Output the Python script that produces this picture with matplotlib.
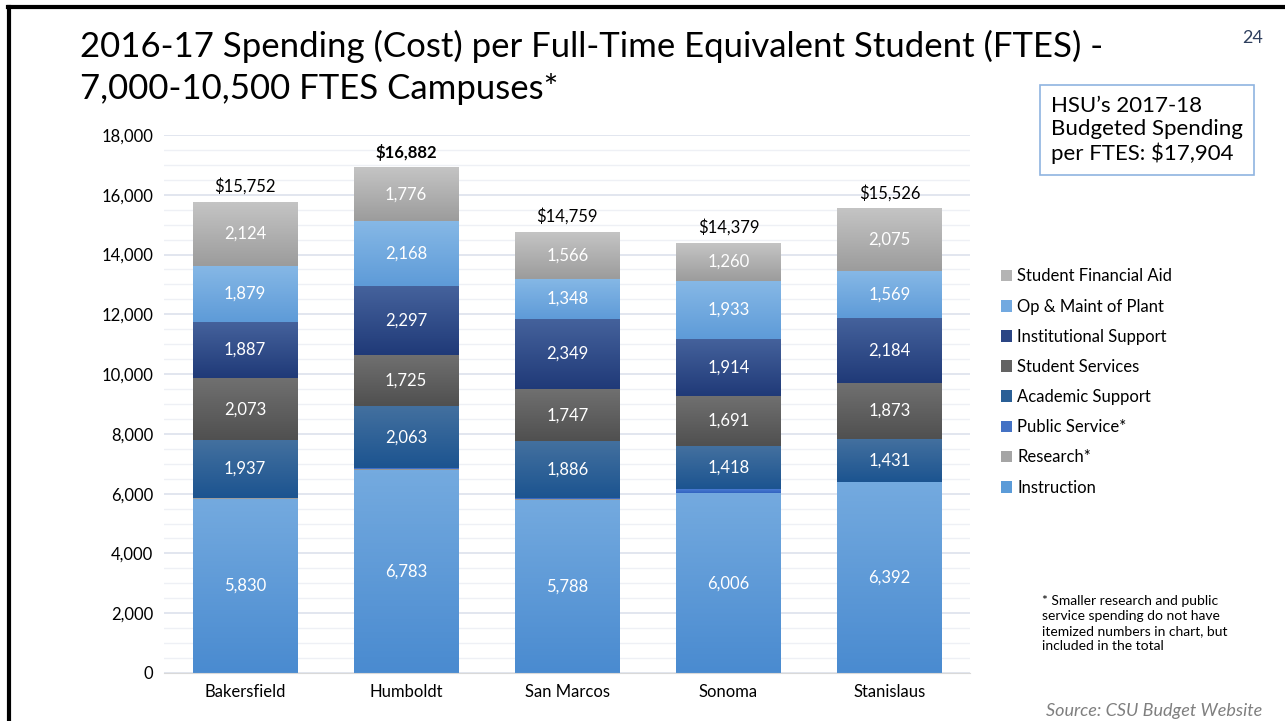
import matplotlib.pyplot as plt
import matplotlib.colors as mcolors
import numpy as np

plt.rcParams['font.family'] = ['Lato', 'DejaVu Sans']

# Campuses and spending per FTES by category
campuses = ['Bakersfield', 'Humboldt', 'San Marcos', 'Sonoma', 'Stanislaus']
instruction = [5830, 6783, 5788, 6006, 6392]
research = [12, 45, 40, 7, 1]
public_service = [10, 25, 35, 150, 1]
academic_support = [1937, 2063, 1886, 1418, 1431]
student_services = [2073, 1725, 1747, 1691, 1873]
institutional_support = [1887, 2297, 2349, 1914, 2184]
op_maint = [1879, 2168, 1348, 1933, 1569]
financial_aid = [2124, 1776, 1566, 1260, 2075]
totals = ['$15,752', '$16,882', '$14,759', '$14,379', '$15,526']

series = [
    ('Instruction', instruction, ('#74aadf', '#4a8bd0'), '#5b9bd8', True),
    ('Research*', research, ('#b0b0b0', '#8c8c8c'), '#a5a5a5', False),
    ('Public Service*', public_service, ('#4d7fd6', '#3264c0'), '#4472c4', False),
    ('Academic Support', academic_support, ('#43709f', '#1c5490'), '#2a5f96', True),
    ('Student Services', student_services, ('#707070', '#505050'), '#636363', True),
    ('Institutional Support', institutional_support, ('#45629c', '#203a78'), '#2b4584', True),
    ('Op & Maint of Plant', op_maint, ('#86b8e6', '#5e9bd8'), '#72a9e0', True),
    ('Student Financial Aid', financial_aid, ('#c4c4c4', '#9c9c9c'), '#b4b4b4', True),
]

fig = plt.figure(figsize=(12.85, 7.21), dpi=100)
ax = fig.add_axes([0.128, 0.0666, 0.627, 0.7462])

x = np.arange(len(campuses))
width = 0.65
bottom = np.zeros(len(campuses))
handles = []
for name, vals, (c_top, c_bot), c_leg, show in series:
    vals = np.array(vals, dtype=float)
    bars = ax.bar(x, vals, width, bottom=bottom, color=c_leg, label=name, zorder=2)
    cmap = mcolors.LinearSegmentedColormap.from_list(name, [c_bot, c_top])
    grad = np.linspace(0, 1, 64).reshape(-1, 1)
    for b in bars:
        bx, by, bw, bh = b.get_x(), b.get_y(), b.get_width(), b.get_height()
        ax.imshow(grad, cmap=cmap, origin='lower', aspect='auto',
                  extent=(bx, bx + bw, by, by + bh), zorder=2.5)
    if show:
        for xi, v, b0 in zip(x, vals, bottom):
            ax.text(xi, b0 + v / 2, f'{int(v):,}', ha='center', va='center',
                    color='white', fontsize=12, zorder=4)
    handles.append(bars)
    bottom += vals

for i, (xi, t) in enumerate(zip(x, totals)):
    ax.text(xi, bottom[i] + 250, t, ha='center', va='bottom', fontsize=12,
            fontweight='bold' if campuses[i] == 'Humboldt' else 'normal', zorder=4)

ax.set_xlim(-0.5, len(campuses) - 0.5)
ax.set_ylim(0, 18000)
ax.set_yticks(np.arange(0, 18001, 2000))
ax.set_yticks(np.arange(0, 18001, 500), minor=True)
ax.set_yticklabels([f'{v:,}' for v in range(0, 18001, 2000)], fontsize=12)
ax.set_xticks(x)
ax.set_xticklabels(campuses, fontsize=12)
ax.tick_params(axis='both', length=0, pad=8)
ax.tick_params(axis='y', which='minor', length=0)
ax.grid(axis='y', which='major', color='#dde1ec', linewidth=1.2, zorder=0)
ax.grid(axis='y', which='minor', color='#eef0f5', linewidth=1, zorder=0)
for s in ['top', 'right', 'left']:
    ax.spines[s].set_visible(False)
ax.spines['bottom'].set_color('#d9d9d9')

leg = fig.legend(handles[::-1], [s[0] for s in series][::-1],
                 loc='upper left', bbox_to_anchor=(0.7735, 0.637), frameon=False,
                 fontsize=12, handlelength=0.7, handleheight=0.7,
                 handletextpad=0.3, labelspacing=0.85, borderaxespad=0)

fig.text(0.062, 0.935, '2016-17 Spending (Cost) per Full-Time Equivalent Student (FTES) -',
         fontsize=25, va='center')
fig.text(0.062, 0.876, '7,000-10,500 FTES Campuses*',
         fontsize=25, va='center')
fig.text(0.975, 0.947, '24', fontsize=13, color='#2e3f5e', ha='center', va='center')

fig.text(0.818, 0.82, "HSU\u2019s 2017-18\nBudgeted Spending\nper FTES: $17,904",
         fontsize=16, va='center', ha='left', linespacing=1.2,
         bbox=dict(boxstyle='square,pad=0.5', fc='white', ec='#8fb4e0', lw=1.2))

fig.text(0.811, 0.135, '* Smaller research and public\nservice spending do not have\n'
         'itemized numbers in chart, but\nincluded in the total',
         fontsize=10, va='center', ha='left', linespacing=1.3)
fig.text(0.982, 0.014, 'Source: CSU Budget Website', fontsize=13, style='italic',
         color='#7f7f7f', ha='right', va='center')

# slide border
fig.add_artist(plt.Line2D([0.006, 1.0], [0.99, 0.99], color='black', lw=3))
fig.add_artist(plt.Line2D([0.007, 0.007], [0.0, 0.99], color='black', lw=3))

fig.savefig('out.png', dpi=100)
